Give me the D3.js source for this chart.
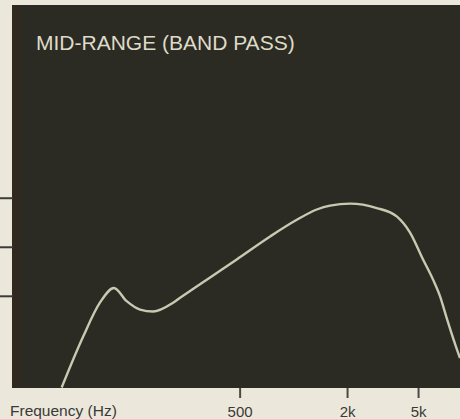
<!DOCTYPE html>
<html>
<head>
<meta charset="utf-8">
<script src="https://cdn.jsdelivr.net/npm/d3@7"></script>
<style>
  html, body { margin: 0; padding: 0; background: #ebe7db; }
  svg { display: block; }
</style>
</head>
<body>
<svg id="chart" width="460" height="419"></svg>
<script>
// Data (frequency in Hz, response in dB relative to top tick)
const freqs = [50.3, 66.4, 82.4, 98.8, 116.4, 138.3, 163.7, 211.8, 231.9, 481.5, 741, 1046, 1353, 1606, 2080, 2933, 3795, 4508, 5333, 6067, 6641, 7244, 8377, 8590];
const levels = [-38.7, -28.3, -21.4, -18.4, -21.1, -22.8, -23.2, -21.4, -20.4, -12.6, -7.9, -4.5, -2.4, -1.6, -1.2, -2.1, -3.8, -7.1, -12.6, -16.7, -20.1, -24.6, -31.6, -32.7];
const xTickValues = [500, 2000, 5000];
const xTickLabels = ["500", "2k", "5k"];
const yTickValues = [0, -10, -20];
const title = "MID-RANGE (BAND PASS)";
const xTitle = "Frequency (Hz)";

const svg = d3.select("#chart");
const panel = { left: 12, top: 5, right: 460, bottom: 388 };

const x = d3.scaleLog().domain([26.5, 8590]).range([panel.left, panel.right]);
const y = d3.scaleLinear().domain([39.3, -38.8]).range([panel.top, panel.bottom]);

// Panel background
svg.append("rect")
  .attr("x", panel.left).attr("y", panel.top)
  .attr("width", panel.right - panel.left).attr("height", panel.bottom - panel.top)
  .attr("fill", "#2c2b23");

// subtle darker band near left edge
svg.append("rect")
  .attr("x", panel.left).attr("y", panel.top)
  .attr("width", 8).attr("height", panel.bottom - panel.top)
  .attr("fill", "#33291f").attr("opacity", 0.8);

svg.append("defs").append("clipPath").attr("id", "clip")
  .append("rect")
  .attr("x", panel.left).attr("y", panel.top)
  .attr("width", panel.right - panel.left).attr("height", panel.bottom - panel.top);

// Title
svg.append("text")
  .attr("x", 36).attr("y", 50)
  .attr("font-family", "Liberation Sans, Arial, sans-serif")
  .attr("font-size", 21)
  .attr("fill", "#dedbc9")
  .text(title);

// Curve
const data = freqs.map((f, i) => ({ f, v: levels[i] }));
const line = d3.line()
  .x(d => x(d.f))
  .y(d => y(d.v))
  .curve(d3.curveMonotoneX);

svg.append("path")
  .datum(data)
  .attr("clip-path", "url(#clip)")
  .attr("d", line)
  .attr("fill", "none")
  .attr("stroke", "#c9c8b0")
  .attr("stroke-width", 2.4)
  .attr("stroke-linejoin", "round");

// Bottom axis
const xAxis = d3.axisBottom(x)
  .tickValues(xTickValues)
  .tickFormat((d, i) => xTickLabels[i])
  .tickSize(10)
  .tickPadding(8);

const gx = svg.append("g")
  .attr("transform", `translate(0,${panel.bottom})`)
  .call(xAxis);
gx.select(".domain").remove();
gx.selectAll(".tick line").attr("stroke", "#4a4a44").attr("stroke-width", 2);
gx.selectAll(".tick text")
  .attr("font-family", "Liberation Sans, Arial, sans-serif")
  .attr("font-size", 15)
  .attr("fill", "#3a3a36");

// Left axis ticks (no labels)
const yAxis = d3.axisLeft(y)
  .tickValues(yTickValues)
  .tickFormat("")
  .tickSize(13);
const gy = svg.append("g")
  .attr("transform", `translate(${panel.left + 1},0)`)
  .call(yAxis);
gy.select(".domain").remove();
gy.selectAll(".tick line").attr("stroke", "#3c3c36").attr("stroke-width", 2);

// X axis title
svg.append("text")
  .attr("x", 10).attr("y", 416)
  .attr("font-family", "Liberation Sans, Arial, sans-serif")
  .attr("font-size", 15.5)
  .attr("fill", "#3a3a36")
  .text(xTitle);
</script>
</body>
</html>
